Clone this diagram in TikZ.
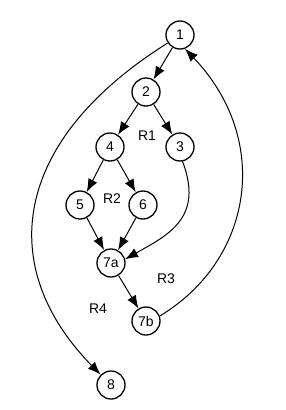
\documentclass[tikz,border=0pt]{standalone}
\usepackage{fontspec}
\setmainfont{Liberation Sans}
\usetikzlibrary{arrows.meta}
\begin{document}
\begin{tikzpicture}[x=1pt,y=-1pt,
  vtx/.style={circle,draw,line width=1.3pt,minimum size=28pt,inner sep=0pt,font=\fontsize{14}{14}\selectfont},
  lbl/.style={font=\fontsize{14}{14}\selectfont,inner sep=0pt},
  edge/.style={line width=1pt,-{Latex[length=13pt,width=10pt]}}]
\useasboundingbox (0,0) rectangle (285,410);
\node[vtx] (n1) at (180,35) {1};
\node[vtx] (n2) at (146,92) {2};
\node[vtx] (n3) at (180,147) {3};
\node[vtx] (n4) at (110,147) {4};
\node[vtx] (n5) at (80,205) {5};
\node[vtx] (n6) at (143,205) {6};
\node[vtx] (n7a) at (111,263) {7a};
\node[vtx] (n7b) at (146,321) {7b};
\node[vtx] (n8) at (111,385) {8};
\node[lbl] (r1) at (147,136) {R1};
\node[lbl] (r2) at (112,199) {R2};
\node[lbl] (r3) at (166,279) {R3};
\node[lbl] (r4) at (98,309) {R4};
\draw[edge] (n1) -- (n2);
\draw[edge] (n2) -- (n4);
\draw[edge] (n2) -- (n3);
\draw[edge] (n4) -- (n5);
\draw[edge] (n4) -- (n6);
\draw[edge] (n5) -- (n7a);
\draw[edge] (n6) -- (n7a);
\draw[edge] (n7a) -- (n7b);
\draw[edge] (n1.213) .. controls (10,142) and (-4,268) .. (n8.135);
\draw[edge] (n7b.20) .. controls (253,260) and (272,140) .. (n1.290);
\draw[edge] (n3.280) .. controls (204,218) and (168,235) .. (n7a.15);
\end{tikzpicture}
\end{document}
